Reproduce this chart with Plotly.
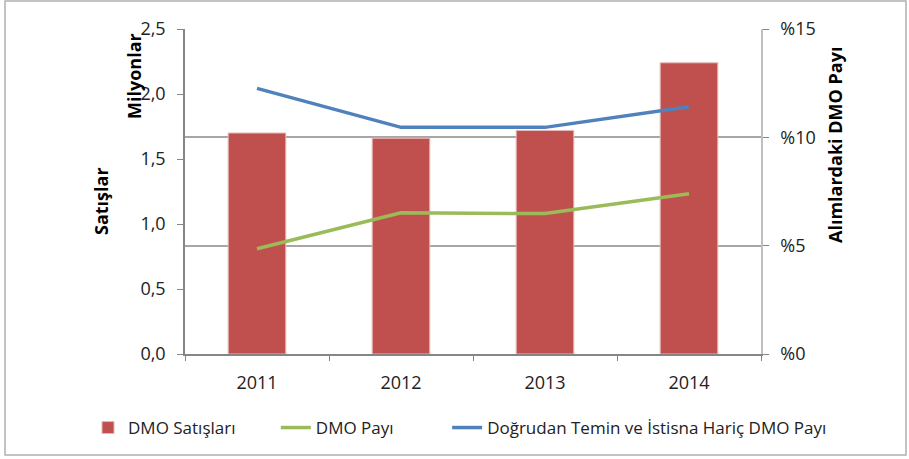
import plotly.graph_objects as go

years = ["2011", "2012", "2013", "2014"]
dmo_satislari = [1.70, 1.66, 1.72, 2.24]          # milyon
dmo_payi = [4.86, 6.52, 6.48, 7.40]               # %
dogrudan_haric = [12.26, 10.46, 10.46, 11.41]     # %

left_ticks = [0, 0.5, 1.0, 1.5, 2.0, 2.5]
right_ticks = [0, 5, 10, 15]
right_labels = ["%0", "%5", "%10", "%15"]

W, H = 909, 459
L, R, T, B = 185, 148, 29, 105
pw, ph = W - L - R, H - T - B

def px(x):
    return (x - L) / pw

def py(y):
    return (H - B - y) / ph

FONT = "Open Sans"
AX = "#868686"
NB = "\u00a0"

fig = go.Figure()
fig.add_trace(go.Bar(x=years, y=dmo_satislari, name="DMO Satışları" + NB * 8,
                     marker=dict(color="#C0504D", line=dict(color="#E6B9B8", width=1)),
                     yaxis="y"))
fig.add_trace(go.Scatter(x=years, y=dmo_payi, name="DMO Payı" + NB * 11, mode="lines",
                         line=dict(color="#9BBB59", width=3.5), yaxis="y2"))
fig.add_trace(go.Scatter(x=years, y=dogrudan_haric,
                         name="Doğrudan Temin ve İstisna Hariç DMO Payı", mode="lines",
                         line=dict(color="#4F81BD", width=3.5), yaxis="y2"))

fig.update_layout(
    width=W, height=H,
    margin=dict(l=L, r=R, t=T, b=B, autoexpand=False),
    paper_bgcolor="white", plot_bgcolor="white",
    separators=", ",
    bargap=0.6,
    font=dict(family=FONT, size=18, color="#222222"),
    showlegend=True,
    legend=dict(orientation="h", x=px(88), xanchor="left",
                y=py(428), yanchor="middle",
                font=dict(family=FONT, size=17, color="#222222"), itemwidth=30,
                traceorder="normal", bgcolor="rgba(0,0,0,0)"),
    xaxis=dict(type="category", showline=True, linecolor=AX, linewidth=1.5,
               ticks="outside", tickson="boundaries", ticklen=5, tickcolor=AX,
               showgrid=False, tickfont=dict(size=18), ticklabelstandoff=12),
    yaxis=dict(range=[0, 2.5], tickvals=left_ticks, tickformat=".1f",
               showline=True, linecolor=AX, linewidth=1.5, ticks="outside",
               ticklen=6, tickcolor=AX, showgrid=False, zeroline=False,
               ticklabelstandoff=8, tickfont=dict(size=18)),
    yaxis2=dict(range=[0, 15], tickvals=right_ticks, ticktext=right_labels, overlaying="y",
                side="right", showline=True, linecolor="#BFBFBF", linewidth=1.5,
                ticks="outside", ticklen=6, tickcolor=AX, showgrid=True,
                gridcolor="#A6A6A6", gridwidth=1.5, zeroline=False,
                ticklabelstandoff=8, tickfont=dict(size=18)),
)

fig.add_annotation(text="<b>Milyonlar</b>", x=px(134), y=py(76), xref="paper", yref="paper",
                   textangle=-90, showarrow=False, xanchor="center", yanchor="middle",
                   font=dict(family=FONT, size=18, color="#000000"))
fig.add_annotation(text="<b>Satışlar</b>", x=px(101), y=py(201), xref="paper", yref="paper",
                   textangle=-90, showarrow=False, xanchor="center", yanchor="middle",
                   font=dict(family=FONT, size=18, color="#000000"))
fig.add_annotation(text="<b>Alımlardaki DMO Payı</b>", x=px(835), y=py(145), xref="paper",
                   yref="paper", textangle=-90, showarrow=False, xanchor="center",
                   yanchor="middle", font=dict(family=FONT, size=18, color="#000000"))

fig.add_shape(type="rect", xref="paper", yref="paper",
              x0=px(5), x1=px(906), y0=py(455), y1=py(1),
              line=dict(color="#B0B0B0", width=1.5), fillcolor="rgba(0,0,0,0)", layer="below")

fig.write_html("out.html", config={"displayModeBar": False},
               post_script="document.body.style.margin='0';")
